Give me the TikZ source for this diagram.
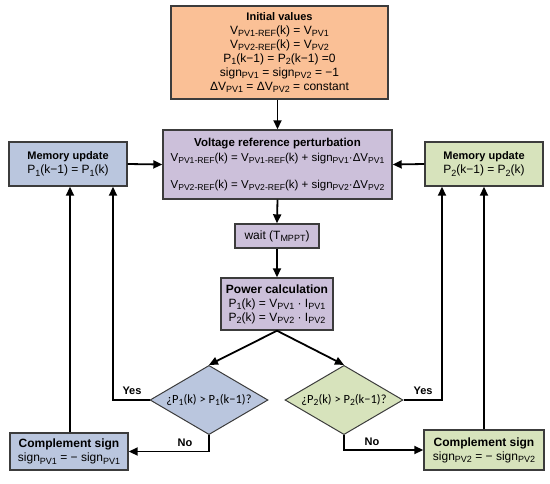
\documentclass[tikz,border=0pt]{standalone}
\usepackage{fontspec}
\setmainfont{Liberation Sans}
\newfontfamily\dfont{Carlito}
\usetikzlibrary{shapes.geometric,arrows.meta}
\newcommand\sbs[1]{\raisebox{-0.4ex}{\fontsize{9}{9}\selectfont #1}}
\newcommand\psb[1]{\raisebox{-0.4ex}{\fontsize{8.6}{9}\selectfont #1}}
\newcommand\dsb[1]{\raisebox{-0.4ex}{\fontsize{9.5}{9}\selectfont #1}}
\definecolor{cinit}{RGB}{250,192,150}
\definecolor{clav}{RGB}{204,192,218}
\definecolor{cblue}{RGB}{186,198,222}
\definecolor{cgreen}{RGB}{215,227,188}
\definecolor{cbord}{RGB}{60,60,60}
\tikzset{
  box/.style={draw=cbord, line width=1.4pt, rectangle, align=center, inner sep=0pt,
    font=\fontsize{12}{14}\selectfont},
  dia/.style={draw=cbord, line width=1pt, diamond, inner sep=0pt, aspect=1.475,
    font=\dfont\fontsize{12.5}{13}\selectfont},
  arr/.style={line width=1.8pt, -{Triangle[length=9pt,width=8pt]}},
  lbl/.style={font=\bfseries\fontsize{11}{12}\selectfont, inner sep=0pt}
}
\begin{document}
\begin{tikzpicture}[x=1pt,y=-1pt]
\useasboundingbox (0,0) rectangle (550,483);
\node[box, fill=cinit, minimum width=217, minimum height=93] (init) at (279.5,52.5)
  {\textbf{\fontsize{11}{14}\selectfont Initial values}\\
   V\sbs{PV1-REF}(k) = V\sbs{PV1}\\
   V\sbs{PV2-REF}(k) = V\sbs{PV2}\\
   P\sbs{1}(k−1) = P\sbs{2}(k−1) =0\\
   sign\sbs{PV1} = sign\sbs{PV2} = −1\\
   ΔV\sbs{PV1} = ΔV\sbs{PV2} = constant};
\node[box, fill=clav, minimum width=229, minimum height=69, font=\fontsize{11.5}{14}\selectfont] (pert) at (277.5,164.5)
  {\textbf{\fontsize{11.5}{14}\selectfont Voltage reference perturbation}\\[1pt]
   V\psb{PV1-REF}(k) = V\psb{PV1-REF}(k) + sign\psb{PV1}·ΔV\psb{PV1}\\[13pt]
   V\psb{PV2-REF}(k) = V\psb{PV2-REF}(k) + sign\psb{PV2}·ΔV\psb{PV2}};
\node[box, fill=cblue, minimum width=118, minimum height=44] (memL) at (68,164)
  {\textbf{\fontsize{11}{14}\selectfont Memory update}\\ P\sbs{1}(k−1) = P\sbs{1}(k)};
\node[box, fill=cgreen, minimum width=118, minimum height=44] (memR) at (484,164)
  {\textbf{\fontsize{11}{14}\selectfont Memory update}\\ P\sbs{2}(k−1) = P\sbs{2}(k)};
\node[box, fill=clav, minimum width=84, minimum height=24] (wait) at (277,236)
  {wait (T\sbs{MPPT})};
\node[box, fill=clav, minimum width=112, minimum height=52] (power) at (277,304)
  {\textbf{Power calculation}\\
   P\sbs{1}(k) = V\sbs{PV1} · I\sbs{PV1}\\
   P\sbs{2}(k) = V\sbs{PV2} · I\sbs{PV2}};
\node[dia, fill=cblue, minimum width=118] (diaL) at (209,400)
  {¿P\dsb{1}(k) > P\dsb{1}(k−1)?};
\node[dia, fill=cgreen, minimum width=118] (diaR) at (344,400)
  {¿P\dsb{2}(k) > P\dsb{2}(k−1)?};
\node[box, fill=cblue, minimum width=118, minimum height=37] (compL) at (69,451.5)
  {\textbf{Complement sign}\\ sign\sbs{PV1} = − sign\sbs{PV1}};
\node[box, fill=cgreen, minimum width=120, minimum height=40] (compR) at (484,450)
  {\textbf{Complement sign}\\ sign\sbs{PV2} = − sign\sbs{PV2}};

\draw[arr] (init.south -| pert.north) -- (pert.north);
\draw[arr] (pert.south) -- (wait.north);
\draw[arr] (wait.south) -- (power.north);
\draw[arr] (power.south) -- (diaL.north);
\draw[arr] (power.south) -- (diaR.north);
\draw[arr] (memL.east) -- (pert.west);
\draw[arr] (memR.west) -- (pert.east);
\coordinate (yl) at ([xshift=45pt]memL.south);
\coordinate (yr) at ([xshift=-42pt]memR.south);
\draw[arr] (diaL.west) -| (yl);
\draw[arr] (diaR.east) -| (yr);
\draw[arr] ([xshift=1pt]compL.north) -- ([xshift=1pt]compL.north |- memL.south);
\draw[arr] (compR.north) -- (compR.north |- memR.south);
\draw[arr] (diaL.south) |- (compL.east);
\draw[arr] (diaR.south) |- (compR.west);
\node[lbl] (yesL) at (132,391) {Yes};
\node[lbl] (yesR) at (423,391) {Yes};
\node[lbl] (noL) at (185,443) {No};
\node[lbl] (noR) at (372,442) {No};
\end{tikzpicture}
\end{document}
